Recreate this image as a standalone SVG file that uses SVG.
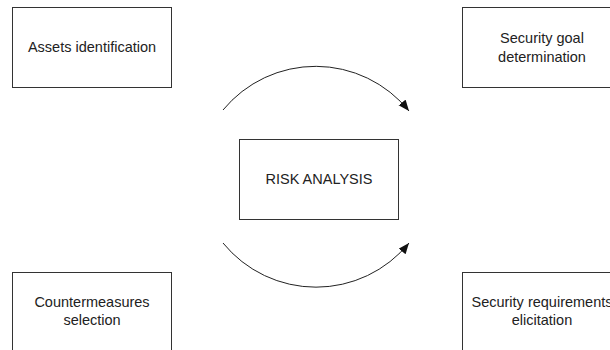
<svg xmlns="http://www.w3.org/2000/svg" width="610" height="350" viewBox="0 0 610 350">
<style>
.box{fill:#fff;stroke:#333;stroke-width:1}
.t{font-family:"Liberation Sans",Arial,sans-serif;font-size:14.5px;fill:#222;text-anchor:middle}
.c{fill:none;stroke:#222;stroke-width:1}
</style>
<defs>
<marker id="ah" markerUnits="userSpaceOnUse" markerWidth="12" markerHeight="10" refX="11" refY="4.5" orient="auto">
<path d="M0,0 L11,4.5 L0,9 z" fill="#111"/>
</marker>
</defs>
<rect width="610" height="350" fill="#fff"/>
<g id="assets">
<rect class="box" x="12.5" y="7.5" width="159" height="80"/>
<text class="t" x="92" y="52">Assets identification</text>
</g>
<g id="goal">
<rect class="box" x="462.5" y="7.5" width="159" height="80"/>
<text class="t" x="542" y="43">Security goal</text>
<text class="t" x="542" y="62">determination</text>
</g>
<g id="risk">
<rect class="box" x="239.5" y="139.5" width="159" height="80"/>
<text class="t" x="319" y="184">RISK ANALYSIS</text>
</g>
<g id="countermeasures">
<rect class="box" x="12.5" y="272.5" width="159" height="80"/>
<text class="t" x="92" y="307">Countermeasures</text>
<text class="t" x="92" y="325">selection</text>
</g>
<g id="requirements">
<rect class="box" x="462.5" y="272.5" width="159" height="80"/>
<text class="t" x="542" y="307">Security requirements</text>
<text class="t" x="542" y="325">elicitation</text>
</g>
<g id="connectors">
<path class="c" d="M223,110 A120,120 0 0,1 409,111" marker-end="url(#ah)"/>
<path class="c" d="M223,243 A120,120 0 0,0 409,243" marker-end="url(#ah)"/>
</g>
</svg>
